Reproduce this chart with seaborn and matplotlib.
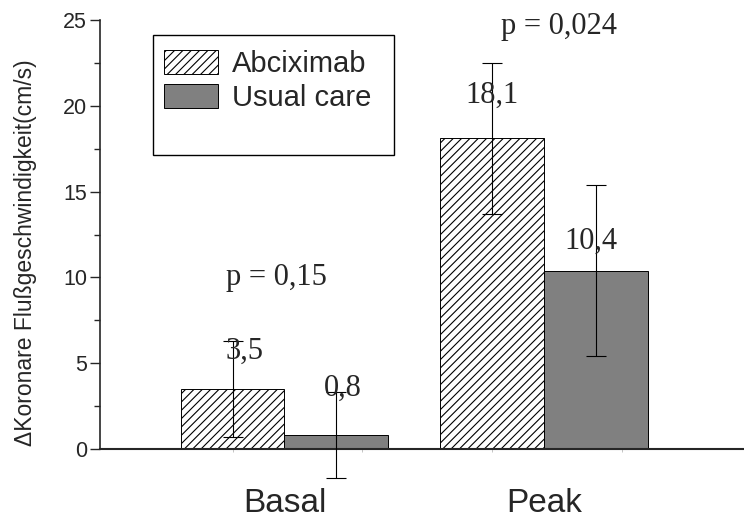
import numpy as np
import pandas as pd
import matplotlib
matplotlib.use("Agg")
import matplotlib.pyplot as plt
from matplotlib.patches import Patch, Rectangle
import seaborn as sns

# data
phases = ["Basal", "Peak"]
groups = ["Abciximab", "Usual care"]
abciximab = [3.5, 18.1]
usual_care = [0.8, 10.4]
abciximab_sd = [2.8, 4.4]
usual_care_sd = [2.5, 5.0]
p_values = ["p = 0,15", "p = 0,024"]

df = pd.DataFrame({
    "phase": phases * 2,
    "group": [groups[0]] * 2 + [groups[1]] * 2,
    "value": abciximab + usual_care,
})

sns.set_style("white")
plt.rcParams["font.family"] = ["Liberation Sans", "DejaVu Sans"]
plt.rcParams["hatch.linewidth"] = 0.8

fig = plt.figure(figsize=(7.44, 5.2), dpi=100)
ax = fig.add_axes([0.1344, 0.1365, 0.8656, 0.825])

palette = {"Abciximab": "white", "Usual care": "#808080"}
sns.barplot(data=df, x="phase", y="value", hue="group", hue_order=groups,
            palette=palette, errorbar=None, edgecolor="black", linewidth=0.7,
            width=0.8, legend=False, ax=ax)

for bar in ax.containers[0]:
    bar.set_hatch("////")

# error bars on top of the bars
for cont, sd in zip(ax.containers, [abciximab_sd, usual_care_sd]):
    xs = [b.get_x() + b.get_width() / 2 for b in cont]
    ys = [b.get_height() for b in cont]
    ax.errorbar(xs, ys, yerr=sd, fmt="none", ecolor="black", elinewidth=0.8,
                capsize=7, capthick=0.8, clip_on=False, zorder=5)

# value labels (offsets in data units)
label_dx = [[0.046, -0.002], [0.023, -0.02]]
label_y = [[5.27, 20.19], [3.10, 11.67]]
for i, (cont, vals) in enumerate(zip(ax.containers, [abciximab, usual_care])):
    for j, (b, v) in enumerate(zip(cont, vals)):
        x = b.get_x() + b.get_width() / 2 + label_dx[i][j]
        ax.text(x, label_y[i][j], f"{v:.1f}".replace(".", ","), ha="center",
                va="baseline", fontsize=22, family=["Liberation Serif", "DejaVu Serif"],
                zorder=6)

p_x = [-0.03, 1.058]
p_y = [9.53, 24.19]
for x, y, t in zip(p_x, p_y, p_values):
    ax.text(x, y, t, ha="center", va="baseline", fontsize=22,
            family=["Liberation Serif", "DejaVu Serif"], clip_on=False)

ax.set_xlim(-0.711, 1.771)
ax.set_ylim(0, 25)
ax.set_yticks(np.arange(0, 26, 5))
ax.set_yticks(np.arange(0, 25, 2.5), minor=True)
ax.set_xticks([0, 1])
ax.set_xticklabels(phases, fontsize=24)
ax.set_xticks([-0.2, 0.3, 0.8, 1.3], minor=True)
ax.tick_params(axis="x", which="major", length=0, pad=28)
ax.tick_params(axis="x", which="minor", bottom=True, length=2.5, width=0.6,
               color="#bbbbbb", direction="out")
ax.tick_params(axis="y", which="major", left=True, length=7.2, width=1.0,
               pad=2, labelsize=15.5, direction="out")
ax.tick_params(axis="y", which="minor", left=True, length=4.5, width=1.0,
               direction="out")
ax.set_xlabel("")
ax.set_ylabel("\u0394Koronare Flu\u00dfgeschwindigkeit(cm/s)", fontsize=16.5)
ax.yaxis.set_label_coords(-0.098, 0.458)

for s in ["top", "right"]:
    ax.spines[s].set_visible(False)
ax.spines["left"].set_linewidth(1.2)
ax.spines["bottom"].set_linewidth(1.5)

# legend with its own frame
handles = [Patch(facecolor="white", edgecolor="black", hatch="////", linewidth=0.7),
           Patch(facecolor="#808080", edgecolor="black", linewidth=0.7)]
ax.legend(handles=handles, labels=groups, frameon=False, loc="upper left",
          bbox_to_anchor=(0.0994, 0.93), borderaxespad=0, borderpad=0,
          fontsize=21, handlelength=1.84, handleheight=0.89,
          handletextpad=0.48, labelspacing=0.2)
ax.add_patch(Rectangle((0.0828, 0.6844), 0.3737, 0.2807, transform=ax.transAxes,
                       fill=False, edgecolor="black", linewidth=1.0,
                       clip_on=False, zorder=4))

fig.savefig("out.png", dpi=100)
